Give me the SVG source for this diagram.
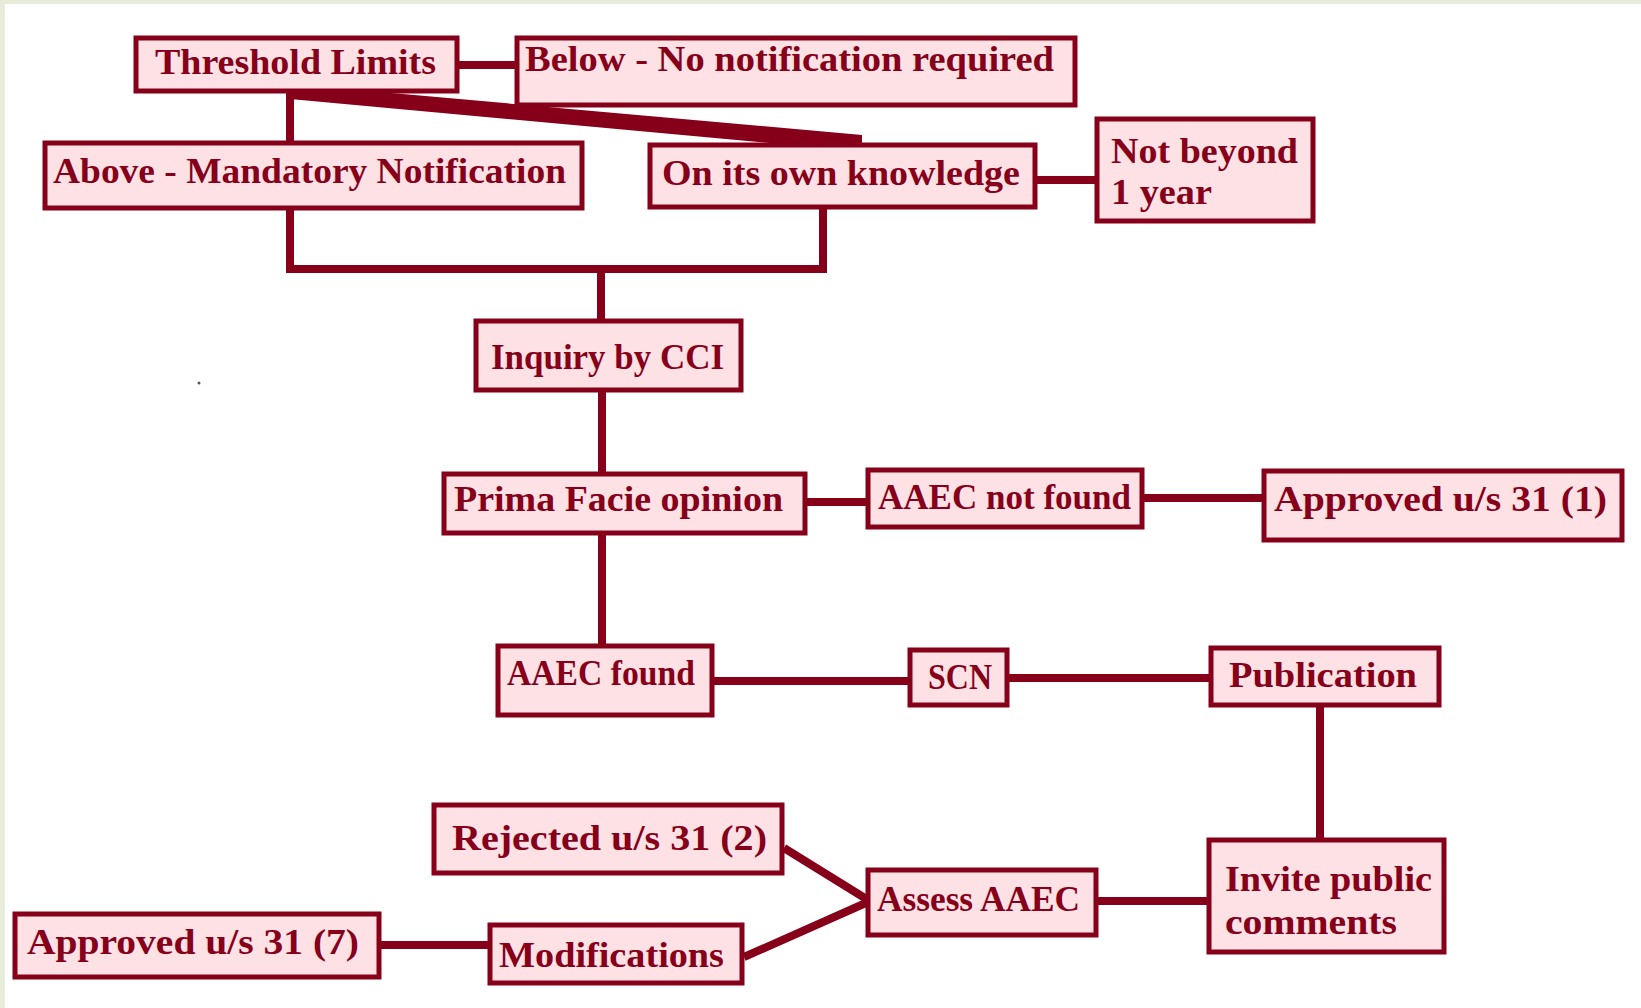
<svg xmlns="http://www.w3.org/2000/svg" width="1641" height="1008" viewBox="0 0 1641 1008">
<style>
.box{fill:#fde1e5;stroke:#87001a;stroke-width:5}
.t{font-family:"Liberation Serif","Times New Roman",serif;font-weight:bold;font-size:36px;fill:#87001a}
.c{stroke:#87001a;stroke-width:8;fill:none;stroke-linecap:butt}
.cf{fill:#87001a;stroke:none}
</style>
<rect x="0" y="0" width="1641" height="1008" fill="#ffffff"/>
<rect x="0" y="0" width="1641" height="4" fill="#e8eddb"/>
<rect x="0" y="0" width="5" height="1008" fill="#e8eddb"/>
<circle cx="199" cy="383" r="1.5" fill="#555"/>
<g id="connectors">
<line class="c" x1="457" y1="65" x2="517" y2="65"/>
<line class="c" x1="290" y1="91" x2="290" y2="143"/>
<polygon class="cf" points="290,91 369,91 862,135 862,144 780,144 290,99"/>
<polyline class="c" points="290,208 290,269 823,269 823,207"/>
<line class="c" x1="601" y1="269" x2="601" y2="321"/>
<line class="c" x1="1035" y1="180" x2="1097" y2="180"/>
<line class="c" x1="602" y1="390" x2="602" y2="474"/>
<line class="c" x1="805" y1="502" x2="868" y2="502"/>
<line class="c" x1="1142" y1="498" x2="1264" y2="498"/>
<line class="c" x1="602" y1="533" x2="602" y2="646"/>
<line class="c" x1="712" y1="681" x2="910" y2="681"/>
<line class="c" x1="1007" y1="678" x2="1211" y2="678"/>
<line class="c" x1="1320" y1="705" x2="1320" y2="840"/>
<line class="c" x1="1096" y1="901" x2="1209" y2="901"/>
<line class="c" x1="868" y1="900" x2="784" y2="848"/>
<line class="c" x1="868" y1="902" x2="744" y2="957"/>
<line class="c" x1="379" y1="945" x2="490" y2="945"/>
</g>
<g id="threshold"><rect class="box" x="136" y="38" width="321" height="53"/><text class="t" x="155" y="74" textLength="281" lengthAdjust="spacingAndGlyphs">Threshold Limits</text></g>
<g id="below"><rect class="box" x="517" y="38" width="558" height="67"/><text class="t" x="525" y="71" textLength="529" lengthAdjust="spacingAndGlyphs">Below - No notification required</text></g>
<g id="above"><rect class="box" x="45" y="143" width="537" height="65"/><text class="t" x="53" y="183" textLength="513" lengthAdjust="spacingAndGlyphs">Above - Mandatory Notification</text></g>
<g id="own"><rect class="box" x="650" y="145" width="385" height="62"/><text class="t" x="662" y="185" textLength="358" lengthAdjust="spacingAndGlyphs">On its own knowledge</text></g>
<g id="notbeyond"><rect class="box" x="1097" y="119" width="216" height="102"/><text class="t" x="1111" y="163" textLength="187" lengthAdjust="spacingAndGlyphs">Not beyond</text><text class="t" x="1111" y="204" textLength="101" lengthAdjust="spacingAndGlyphs">1 year</text></g>
<g id="inquiry"><rect class="box" x="476" y="321" width="265" height="69"/><text class="t" x="491" y="369" textLength="233" lengthAdjust="spacingAndGlyphs">Inquiry by CCI</text></g>
<g id="prima"><rect class="box" x="444" y="474" width="361" height="59"/><text class="t" x="454" y="511" textLength="329" lengthAdjust="spacingAndGlyphs">Prima Facie opinion</text></g>
<g id="aaecnot"><rect class="box" x="868" y="470" width="274" height="57"/><text class="t" x="878" y="509" textLength="253" lengthAdjust="spacingAndGlyphs">AAEC not found</text></g>
<g id="approved1"><rect class="box" x="1264" y="471" width="358" height="69"/><text class="t" x="1274" y="511" textLength="333" lengthAdjust="spacingAndGlyphs">Approved u/s 31 (1)</text></g>
<g id="aaecfound"><rect class="box" x="498" y="646" width="214" height="69"/><text class="t" x="507" y="685" textLength="188" lengthAdjust="spacingAndGlyphs">AAEC found</text></g>
<g id="scn"><rect class="box" x="910" y="650" width="97" height="55"/><text class="t" x="928" y="689" textLength="64" lengthAdjust="spacingAndGlyphs">SCN</text></g>
<g id="publication"><rect class="box" x="1211" y="648" width="228" height="57"/><text class="t" x="1229" y="687" textLength="188" lengthAdjust="spacingAndGlyphs">Publication</text></g>
<g id="rejected"><rect class="box" x="434" y="805" width="348" height="68"/><text class="t" x="452" y="850" textLength="315" lengthAdjust="spacingAndGlyphs">Rejected u/s 31 (2)</text></g>
<g id="assess"><rect class="box" x="868" y="870" width="228" height="65"/><text class="t" x="877" y="911" textLength="203" lengthAdjust="spacingAndGlyphs">Assess AAEC</text></g>
<g id="invite"><rect class="box" x="1209" y="840" width="235" height="112"/><text class="t" x="1225" y="891" textLength="207" lengthAdjust="spacingAndGlyphs">Invite public</text><text class="t" x="1225" y="934" textLength="172" lengthAdjust="spacingAndGlyphs">comments</text></g>
<g id="approved7"><rect class="box" x="15" y="914" width="364" height="63"/><text class="t" x="27" y="954" textLength="332" lengthAdjust="spacingAndGlyphs">Approved u/s 31 (7)</text></g>
<g id="modifications"><rect class="box" x="490" y="925" width="252" height="58"/><text class="t" x="499" y="967" textLength="225" lengthAdjust="spacingAndGlyphs">Modifications</text></g>
</svg>
